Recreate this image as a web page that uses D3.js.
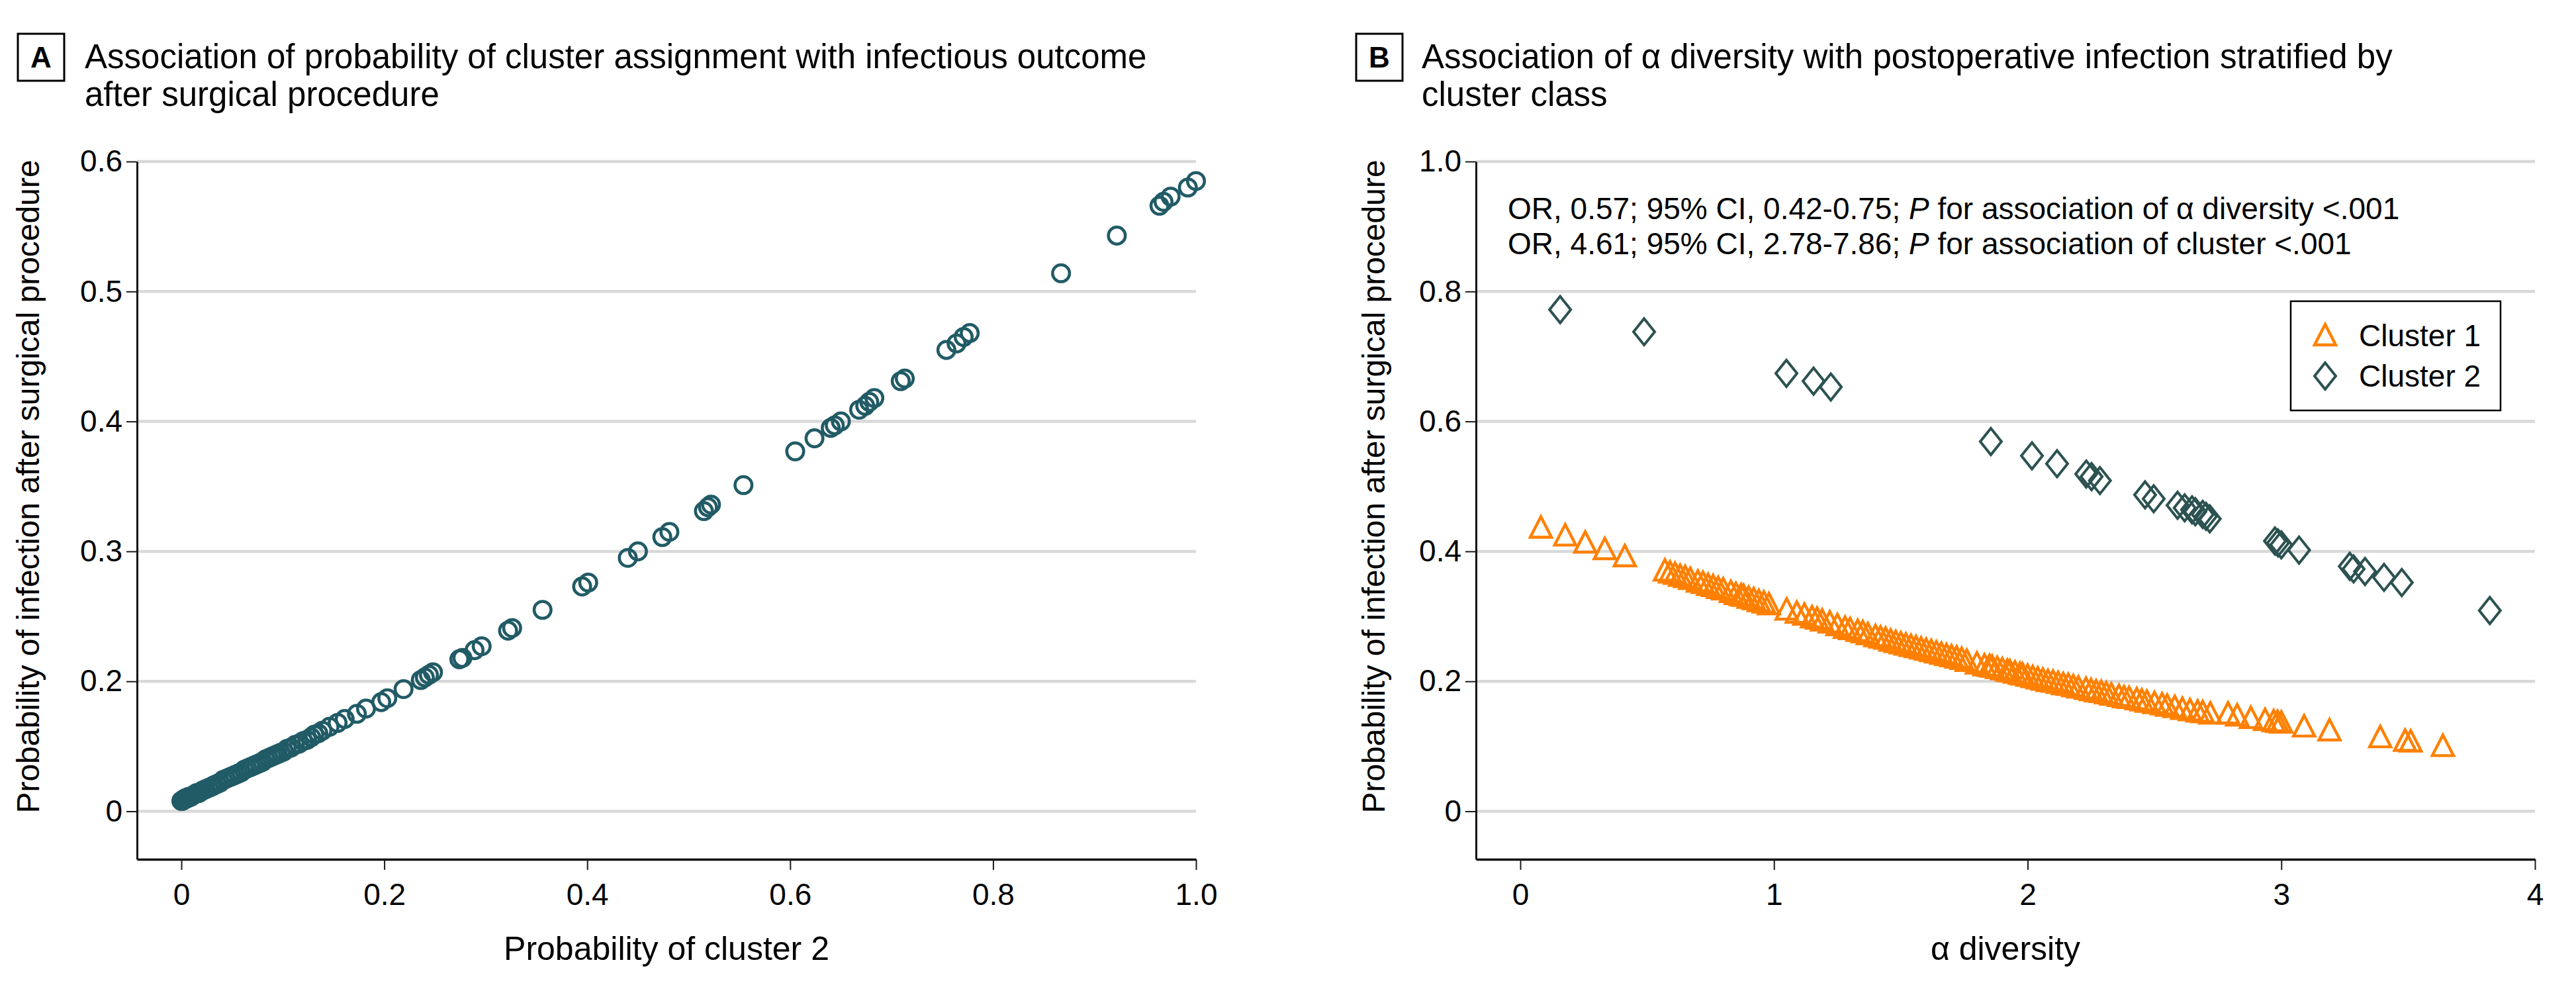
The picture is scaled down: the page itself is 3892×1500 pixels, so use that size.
<!DOCTYPE html>
<html><head><meta charset="utf-8">
<script src="https://cdn.jsdelivr.net/npm/d3@7"></script>
<style>
html,body{margin:0;padding:0;background:#fff;}
svg text{font-family:"Liberation Sans",Arial,Helvetica,sans-serif;fill:#000;}
</style></head><body>
<script>
// ---------------- DATA ----------------
// Panel A: probability of cluster 2 vs probability of infection
const probCluster2 = [0,0.001,0.002,0.003,0.004,0.005,0.006,0.007,0.009,0.011,0.013,0.015,0.017,0.019,0.021,0.024,0.027,0.030,0.032,0.035,0.038,0.041,0.044,0.047,0.050,0.053,0.056,0.059,0.062,0.065,0.068,0.071,0.074,0.077,0.080,0.083,0.086,0.089,0.092,0.095,0.098,0.101,0.104,0.108,0.112,0.116,0.120,0.124,
 0.128,0.131,0.135,0.139,0.146,0.154,0.161,0.173,0.182,0.197,0.203,0.219,0.236,0.240,0.244,0.248,0.274,0.277,0.289,0.296,0.322,0.326,0.356,0.395,0.401,0.440,0.450,0.474,0.481,0.515,0.519,0.522,0.554,0.605,0.624,0.640,0.644,0.650,0.668,0.674,0.678,0.683,0.709,0.713,0.754,0.764,0.771,0.777,0.867,0.922,0.964,0.968,0.975,0.992,1.000];
const probInfectionA = [0.108,0.108,0.109,0.109,0.110,0.110,0.110,0.111,0.111,0.112,0.113,0.114,0.114,0.115,0.116,0.117,0.118,0.119,0.120,0.121,0.122,0.124,0.125,0.126,0.127,0.128,0.129,0.130,0.132,0.133,0.134,0.135,0.136,0.137,0.138,0.140,0.141,0.142,0.143,0.144,0.145,0.146,0.148,0.149,0.151,0.152,0.154,0.155,
 0.157,0.159,0.160,0.162,0.165,0.168,0.171,0.175,0.179,0.184,0.187,0.194,0.201,0.203,0.205,0.207,0.217,0.218,0.224,0.227,0.239,0.241,0.255,0.273,0.276,0.295,0.300,0.311,0.315,0.331,0.334,0.336,0.351,0.377,0.387,0.395,0.397,0.400,0.409,0.412,0.415,0.418,0.431,0.433,0.455,0.460,0.465,0.468,0.514,0.543,0.566,0.569,0.573,0.580,0.585];

// Panel B: alpha diversity vs probability of infection, by cluster
const alphaCluster1 = [0.081,0.177,0.256,0.333,0.412,
 0.57,0.59,0.61,0.63,0.65,0.67,0.70,0.72,0.74,0.76,0.78,0.80,0.83,0.85,0.87,0.88,0.90,0.92,0.94,0.96,0.98,
 1.05,1.09,1.12,1.15,1.17,1.19,1.22,1.25,1.28,1.30,1.33,1.35,1.37,1.40,1.42,1.44,1.46,1.48,1.50,1.52,1.54,1.56,1.58,1.60,1.62,1.64,1.66,1.68,1.70,1.72,1.74,1.76,
 1.80,1.83,1.85,1.86,1.88,1.90,1.92,1.93,1.95,1.97,1.98,2.00,2.02,2.04,2.06,2.08,2.10,2.12,2.14,2.16,2.18,2.20,2.23,2.25,2.27,2.29,2.31,2.33,2.36,2.38,2.40,2.43,2.45,2.47,2.50,2.53,2.55,2.58,2.61,2.64,2.67,2.69,2.72,
 2.79,2.826,2.88,2.936,2.97,2.985,3.00,3.09,3.19,3.39,3.488,3.51,3.637];
const probCluster1 = [0.436,0.424,0.413,0.403,0.392,
 0.370,0.367,0.365,0.362,0.360,0.357,0.353,0.351,0.348,0.346,0.343,0.341,0.337,0.334,0.332,0.331,0.328,0.326,0.323,0.321,0.318,
 0.310,0.305,0.302,0.298,0.296,0.293,0.290,0.286,0.282,0.280,0.277,0.275,0.272,0.269,0.267,0.265,0.262,0.260,0.258,0.256,0.254,0.252,0.250,0.248,0.246,0.244,0.242,0.240,0.238,0.236,0.234,0.231,
 0.227,0.224,0.223,0.222,0.220,0.218,0.216,0.215,0.213,0.211,0.210,0.208,0.206,0.204,0.202,0.200,0.199,0.197,0.195,0.194,0.192,0.190,0.188,0.186,0.184,0.183,0.181,0.179,0.177,0.175,0.174,0.172,0.170,0.168,0.166,0.164,0.162,0.160,0.157,0.155,0.153,0.152,0.150,
 0.150,0.147,0.143,0.140,0.138,0.137,0.136,0.130,0.124,0.1135,0.108,0.107,0.100];
const alphaCluster2 = [0.157,0.488,1.049,1.156,1.224,1.855,2.017,2.116,2.231,2.252,2.285,2.463,2.497,2.591,2.619,2.648,2.661,2.690,2.703,2.718,2.975,2.987,3.000,3.07,3.27,3.285,3.33,3.405,3.475,3.822];
const probCluster2B = [0.772,0.738,0.674,0.662,0.653,0.569,0.547,0.535,0.519,0.515,0.509,0.487,0.481,0.471,0.467,0.464,0.461,0.457,0.454,0.450,0.416,0.413,0.410,0.402,0.377,0.373,0.369,0.360,0.352,0.309];

// Ticks and labels
const xTicksA = [0,0.2,0.4,0.6,0.8,1.0];
const xLabelsA = ["0","0.2","0.4","0.6","0.8","1.0"];
const yTicksA = [0.1,0.2,0.3,0.4,0.5,0.6];
const yLabelsA = ["0","0.2","0.3","0.4","0.5","0.6"];
const xTicksB = [0,1,2,3,4];
const xLabelsB = ["0","1","2","3","4"];
const yTicksB = [0,0.2,0.4,0.6,0.8,1.0];
const yLabelsB = ["0","0.2","0.4","0.6","0.8","1.0"];

const titleA = ["Association of probability of cluster assignment with infectious outcome","after surgical procedure"];
const titleB = ["Association of α diversity with postoperative infection stratified by","cluster class"];
const yTitle = "Probability of infection after surgical procedure";
const xTitleA = "Probability of cluster 2";
const xTitleB = "α diversity";
const legendLabels = ["Cluster 1","Cluster 2"];

// ---------------- DRAWING ----------------
const W = 3892, H = 1500;
const svg = d3.select("body").append("svg").attr("width", W).attr("height", H);
svg.append("rect").attr("width", W).attr("height", H).attr("fill", "#fff");

const plotTop = 244, gridBottom = 1225.5, plotBottom = 1298;
const colA = "#215b66", colC1 = "#ff8000", colC2 = "#2c5251";
const triPath = "M0,-17L16,14L-16,14Z";
const diaPath = "M0,-20L16,0L0,20L-16,0Z";

function makePanel(cfg) {
  const g = svg.append("g");
  const x = d3.scaleLinear().domain(cfg.xDom).range(cfg.xRange);
  const xLeftVal = x.invert(cfg.left);
  x.domain([xLeftVal, cfg.xDom[1]]).range([cfg.left, cfg.xRange[1]]);
  const y = d3.scaleLinear().domain(cfg.yDom).range([gridBottom, plotTop]);
  const yBotVal = y.invert(plotBottom);
  y.domain([yBotVal, cfg.yDom[1]]).range([plotBottom, plotTop]);

  // gridlines
  g.append("g").selectAll("line").data(cfg.yTicks).join("line")
    .attr("x1", cfg.left).attr("x2", cfg.xRange[1])
    .attr("y1", d => y(d)).attr("y2", d => y(d))
    .attr("stroke", "#d9d9d9").attr("stroke-width", 4.5);

  // x axis
  const gx = g.append("g").attr("transform", `translate(0,${plotBottom})`)
    .call(d3.axisBottom(x).tickValues(cfg.xTicks).tickFormat((d, i) => cfg.xLabels[i])
      .tickSize(16).tickSizeOuter(0).tickPadding(20));
  gx.attr("font-size", 46);
  gx.select(".domain").attr("stroke", "#111").attr("stroke-width", 3.6);
  gx.selectAll(".tick line").attr("stroke", "#1a1a1a").attr("stroke-width", 2);

  // y axis
  const gy = g.append("g").attr("transform", `translate(${cfg.left},0)`)
    .call(d3.axisLeft(y).tickValues(cfg.yTicks).tickFormat((d, i) => cfg.yLabels[i])
      .tickSize(16).tickSizeOuter(0).tickPadding(6));
  gy.attr("font-size", 46);
  gy.select(".domain").attr("stroke", "#111").attr("stroke-width", 3);
  gy.selectAll(".tick line").attr("stroke", "#1a1a1a").attr("stroke-width", 2);

  // axis titles
  g.append("text").attr("x", (cfg.left + cfg.xRange[1]) / 2).attr("y", 1450)
    .attr("text-anchor", "middle").attr("font-size", 50).text(cfg.xTitle);
  g.append("text").attr("transform", `translate(${cfg.yTitleX},735) rotate(-90)`)
    .attr("text-anchor", "middle").attr("dominant-baseline", "central")
    .attr("font-size", 48).text(yTitle);

  // panel title
  g.append("rect").attr("x", cfg.boxX).attr("y", 51).attr("width", 70).attr("height", 71)
    .attr("fill", "#fff").attr("stroke", "#000").attr("stroke-width", 3);
  g.append("text").attr("x", cfg.boxX + 35).attr("y", 102).attr("text-anchor", "middle")
    .attr("font-size", 44).attr("font-weight", "bold").text(cfg.letter);
  const tt = g.append("text").attr("x", cfg.titleX).attr("y", 103).attr("font-size", 51);
  cfg.title.forEach((line, i) => tt.append("tspan").attr("x", cfg.titleX).attr("y", 103 + i * 57).text(line));

  return { g, x, y };
}

// Panel A
const A = makePanel({
  xDom: [0, 1], xRange: [274, 1807], left: 207,
  yDom: [0.1, 0.6], yTicks: yTicksA, yLabels: yLabelsA,
  xTicks: xTicksA, xLabels: xLabelsA, xTitle: xTitleA, yTitleX: 42,
  boxX: 27, letter: "A", titleX: 128, title: titleA
});
A.g.append("g").selectAll("circle").data(d3.range(probCluster2.length)).join("circle")
  .attr("cx", i => A.x(probCluster2[i])).attr("cy", i => A.y(probInfectionA[i]))
  .attr("r", 12.8).attr("fill", "none").attr("stroke", colA).attr("stroke-width", 4.5);

// Panel B
const B = makePanel({
  xDom: [0, 4], xRange: [2297, 3830], left: 2230,
  yDom: [0, 1.0], yTicks: yTicksB, yLabels: yLabelsB,
  xTicks: xTicksB, xLabels: xLabelsB, xTitle: xTitleB, yTitleX: 2075,
  boxX: 2049, letter: "B", titleX: 2148, title: titleB
});
B.g.append("g").selectAll("path").data(d3.range(alphaCluster1.length)).join("path")
  .attr("d", triPath)
  .attr("transform", i => `translate(${B.x(alphaCluster1[i])},${B.y(probCluster1[i])})`)
  .attr("fill", "none").attr("stroke", colC1).attr("stroke-width", 4.4).attr("stroke-linejoin", "miter");
B.g.append("g").selectAll("path").data(d3.range(alphaCluster2.length)).join("path")
  .attr("d", diaPath)
  .attr("transform", i => `translate(${B.x(alphaCluster2[i])},${B.y(probCluster2B[i])})`)
  .attr("fill", "none").attr("stroke", colC2).attr("stroke-width", 4);

// Stats annotation
const stats = [
  ["OR, 0.57; 95% CI, 0.42-0.75; ", "P", " for association of α diversity <.001"],
  ["OR, 4.61; 95% CI, 2.78-7.86; ", "P", " for association of cluster <.001"]
];
stats.forEach((parts, i) => {
  const t = B.g.append("text").attr("x", 2278).attr("y", 331 + i * 53).attr("font-size", 46);
  t.append("tspan").text(parts[0]);
  t.append("tspan").attr("font-style", "italic").text(parts[1]);
  t.append("tspan").text(parts[2]);
});

// Legend
const lg = B.g.append("g");
lg.append("rect").attr("x", 3461).attr("y", 455).attr("width", 317).attr("height", 165)
  .attr("fill", "#fff").attr("stroke", "#000").attr("stroke-width", 2.5);
const legendItems = [{ d: triPath, c: colC1, w: 4.4 }, { d: diaPath, c: colC2, w: 4 }];
legendItems.forEach((it, i) => {
  lg.append("path").attr("d", it.d).attr("transform", `translate(3513,${507 + i * 61})`)
    .attr("fill", "none").attr("stroke", it.c).attr("stroke-width", it.w);
  lg.append("text").attr("x", 3564).attr("y", 507 + i * 61).attr("dominant-baseline", "central")
    .attr("font-size", 46).text(legendLabels[i]);
});
</script>
</body></html>
